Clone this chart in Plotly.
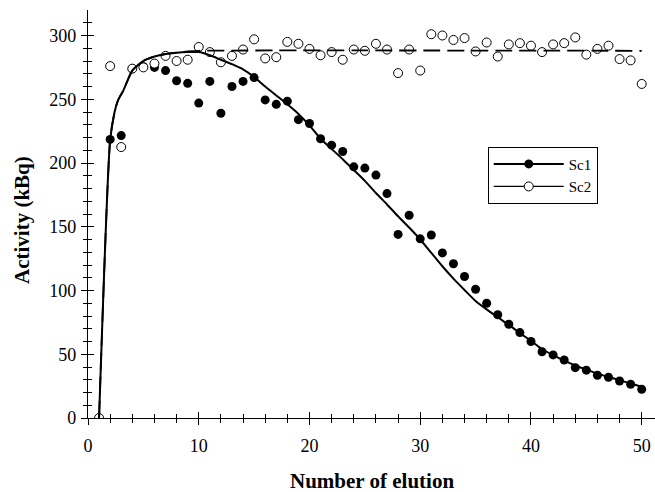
import plotly.graph_objects as go

# ---- data ----
sc1_x = list(range(2, 51))
sc1_y = [218.5, 221.5, 274, 275.5, 275, 272.5, 264.5, 262.5, 247, 264,
         239, 260, 264, 267, 249.5, 246, 248.5, 234, 231, 219,
         214, 209, 197, 196, 190.5, 176, 144, 159, 140.5, 143.5,
         129.5, 121, 111, 101, 90, 81, 73.5, 67, 60, 52,
         49.5, 45.5, 39.5, 37.5, 33.5, 32, 29, 26.5, 22.5]

sc2_x = list(range(1, 51))
sc2_y = [0, 276, 212.5, 274, 275, 278, 284, 280, 281, 291,
         287, 279, 284, 289, 297, 282, 283, 295, 293.5, 289.5,
         284.5, 287, 281, 289, 288, 293.5, 289, 270.5, 289, 272.5,
         301, 300, 296.5, 298, 287.5, 294.5, 283.5, 293, 294, 292,
         287, 293, 294, 298.5, 285, 289.5, 292, 281.5, 280.5, 262]

fit1_x = [1, 2, 2.4, 2.7, 3.2, 4, 5, 6, 7, 8, 9, 10, 11, 12, 13, 14, 15, 16,
          17, 18, 19, 20, 21, 22, 23, 24, 25, 26, 27, 28, 29, 30, 31, 32, 33,
          34, 35, 36, 37, 38, 39, 40, 41, 42, 43, 44, 45, 46, 47, 48, 49, 50]
fit1_y = [0, 218, 240, 249, 257, 272.5, 280, 283.5, 285.5, 286.5, 287, 287,
          284.5, 281, 277.5, 273.5, 267.5, 260, 253, 246, 238.5, 229.5, 219,
          211, 203, 194.5, 186, 176.5, 167.5, 158.2, 149.4, 140, 129.5, 119,
          109.3, 100.4, 91.8, 85.2, 79, 73, 66.6, 60.5, 53.9, 49.3, 45, 41.2,
          38, 34.8, 32.2, 29.7, 27, 24.5]

fit2_x = [1, 2, 2.4, 2.7, 3.2, 4, 5, 6, 7, 8, 9, 10, 50]
fit2_y = [0, 218, 240, 249, 257, 272.5, 280, 283.5, 285.5, 286.5, 287.5, 288, 288]

series_names = ["Sc1", "Sc2"]
x_title = "Number of elution"
y_title = "Activity (kBq)"

FONT = "Liberation Serif, Times New Roman, serif"

fig = go.Figure()

# legend-only entries
fig.add_trace(go.Scatter(x=[None], y=[None], mode="lines+markers", name=series_names[0],
                         line=dict(color="black", width=2),
                         marker=dict(symbol="circle", size=9, color="black")))
fig.add_trace(go.Scatter(x=[None], y=[None], mode="lines+markers", name=series_names[1],
                         line=dict(color="black", width=1.2),
                         marker=dict(symbol="circle", size=9, color="white",
                                     line=dict(color="black", width=1))))

# data markers
fig.add_trace(go.Scatter(x=sc1_x, y=sc1_y, mode="markers", showlegend=False,
                         marker=dict(symbol="circle", size=9, color="black")))
fig.add_trace(go.Scatter(x=sc2_x, y=sc2_y, mode="markers", showlegend=False,
                         marker=dict(symbol="circle", size=9, color="white",
                                     line=dict(color="black", width=1))))

# fitted lines
fig.add_trace(go.Scatter(x=fit2_x, y=fit2_y, mode="lines", showlegend=False,
                         line=dict(color="black", width=1.8, dash="17px,7px",
                                   shape="spline", smoothing=0.6)))
fig.add_trace(go.Scatter(x=fit1_x, y=fit1_y, mode="lines", showlegend=False,
                         line=dict(color="black", width=2,
                                   shape="spline", smoothing=0.6)))

# dummy trace for overlay axes (inside ticks)
fig.add_trace(go.Scatter(x=[None], y=[None], xaxis="x2", yaxis="y2",
                         showlegend=False, hoverinfo="skip"))

XR = [0, 51.2]
YR = [0, 320]

fig.update_layout(
    width=655, height=492,
    margin=dict(l=88, r=0, t=10, b=74, autoexpand=False),
    paper_bgcolor="white", plot_bgcolor="white",
    font=dict(family=FONT, color="black", size=18),
    showlegend=True,
    legend=dict(x=0.705, y=0.665, xanchor="left", yanchor="top",
                bgcolor="white", bordercolor="black", borderwidth=1,
                font=dict(family=FONT, size=15, color="black"),
                itemwidth=70, tracegroupgap=0),
    xaxis=dict(range=XR, showgrid=False, zeroline=False, showline=True,
               linecolor="black", linewidth=1.2, automargin=False,
               ticks="outside", ticklen=6, tickwidth=1.2, tickcolor="black",
               tickmode="array", tickvals=[0, 10, 20, 30, 40, 50],
               minor=dict(ticks="outside", ticklen=4, tickwidth=1, tickcolor="black",
                          tickmode="array", tickvals=list(range(2, 51, 2))),
               tickfont=dict(family=FONT, size=18),
               ticklabelstandoff=5),
    yaxis=dict(range=YR, showgrid=False, zeroline=False, showline=True,
               linecolor="black", linewidth=1.2, automargin=False,
               ticks="outside", ticklen=6, tickwidth=1.2, tickcolor="black",
               tickmode="array", tickvals=[0, 50, 100, 150, 200, 250, 300],
               minor=dict(ticks="outside", ticklen=4, tickwidth=1, tickcolor="black",
                          tickmode="array", tickvals=list(range(10, 320, 10))),
               tickfont=dict(family=FONT, size=18),
               ticklabelstandoff=1),
    xaxis2=dict(range=XR, overlaying="x", side="bottom", anchor="y2", automargin=False,
                showgrid=False, zeroline=False, showline=False, showticklabels=False,
                ticks="inside", ticklen=6, tickwidth=1.2, tickcolor="black",
                tickmode="array", tickvals=[0, 10, 20, 30, 40, 50],
                minor=dict(ticks="inside", ticklen=4, tickwidth=1, tickcolor="black",
                           tickmode="array", tickvals=list(range(2, 51, 2)))),
    yaxis2=dict(range=YR, overlaying="y", side="left", anchor="x2", automargin=False,
                showgrid=False, zeroline=False, showline=False, showticklabels=False,
                ticks="inside", ticklen=6, tickwidth=1.2, tickcolor="black",
                tickmode="array", tickvals=[0, 50, 100, 150, 200, 250, 300],
                minor=dict(ticks="inside", ticklen=4, tickwidth=1, tickcolor="black",
                           tickmode="array", tickvals=list(range(10, 320, 10)))),
    annotations=[
        dict(text="<b>" + x_title + "</b>", xref="paper", yref="paper",
             x=0.5, y=0, xanchor="center", yanchor="middle", yshift=-63,
             showarrow=False, font=dict(family=FONT, size=21, color="black")),
        dict(text="<b>" + y_title + "</b>", xref="paper", yref="paper",
             x=0, y=0.5, xanchor="center", yanchor="middle", xshift=-66, yshift=-6,
             textangle=-90, showarrow=False,
             font=dict(family=FONT, size=21, color="black")),
    ],
)

fig.write_html("out.html",
               config={"displayModeBar": False},
               post_script="document.body.style.margin='0';document.body.style.padding='0';")
